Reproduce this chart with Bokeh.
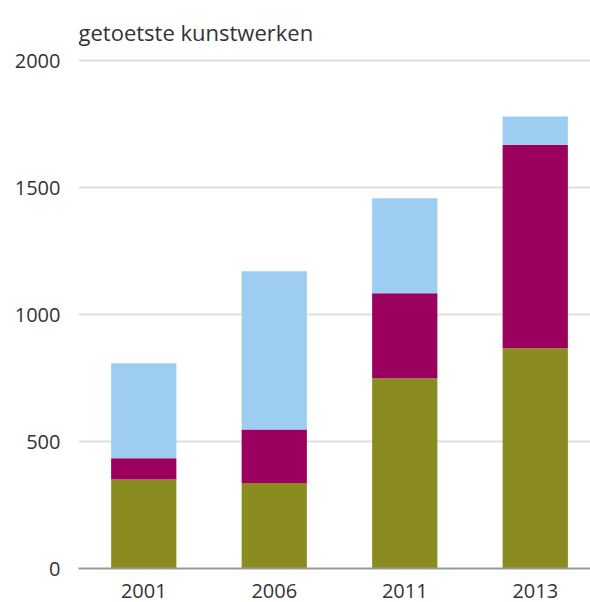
from bokeh.plotting import figure
from bokeh.models import ColumnDataSource, FixedTicker, Label, Range1d
from bokeh.embed import file_html
from bokeh.resources import INLINE

years = ["2001", "2006", "2011", "2013"]
olive = [350, 337, 749, 867]
purple = [84, 210, 335, 801]
blue = [374, 623, 374, 112]
y_ticks = [0, 500, 1000, 1500, 2000]
title_text = "getoetste kunstwerken"

colors = ["#8a8c20", "#9c005f", "#9ecdf2"]
series = ["olive", "purple", "blue"]

xs = list(range(len(years)))
src = ColumnDataSource(dict(x=xs, olive=olive, purple=purple, blue=blue))

W, H = 590, 602
ml, mb = 78, 34
frame_w = W - ml
frame_h = H - mb
px_per_cat = 130.5
px_per_unit = 0.254

p = figure(width=W, height=H, output_backend="svg", toolbar_location=None,
           x_range=Range1d(-0.5, -0.5 + frame_w / px_per_cat),
           y_range=Range1d(0, frame_h / px_per_unit),
           min_border_left=ml, min_border_right=0, min_border_top=0,
           min_border_bottom=mb)
p.outline_line_color = None
p.background_fill_color = "white"
p.border_fill_color = "white"

p.vbar_stack(series, x="x", width=0.5, source=src, color=colors, line_color=None)

font = "Open Sans"
txt = "#333333"

p.xaxis.ticker = FixedTicker(ticks=xs)
p.xaxis.major_label_overrides = {i: y for i, y in enumerate(years)}
p.xaxis.major_tick_line_color = None
p.xaxis.minor_tick_line_color = None
p.xaxis.axis_line_color = "#999999"
p.xaxis.axis_line_width = 2
p.xaxis.major_label_text_font = font
p.xaxis.major_label_text_font_size = "20px"
p.xaxis.major_label_text_color = txt
p.xaxis.major_label_standoff = 9
p.xgrid.grid_line_color = None

p.yaxis.ticker = FixedTicker(ticks=y_ticks)
p.yaxis.axis_line_color = None
p.yaxis.major_tick_line_color = None
p.yaxis.minor_tick_line_color = None
p.yaxis.major_label_text_font = font
p.yaxis.major_label_text_font_size = "20px"
p.yaxis.major_label_text_color = txt
p.yaxis.major_label_standoff = 12
p.ygrid.grid_line_color = "#e0e0e0"
p.ygrid.grid_line_width = 2

title = Label(x=-0.5, y=2114, text=title_text, text_font=font,
              text_font_size="22px", text_color=txt, text_baseline="middle",
              text_align="left")
p.add_layout(title)

open("out.html", "w").write(file_html(p, INLINE))
